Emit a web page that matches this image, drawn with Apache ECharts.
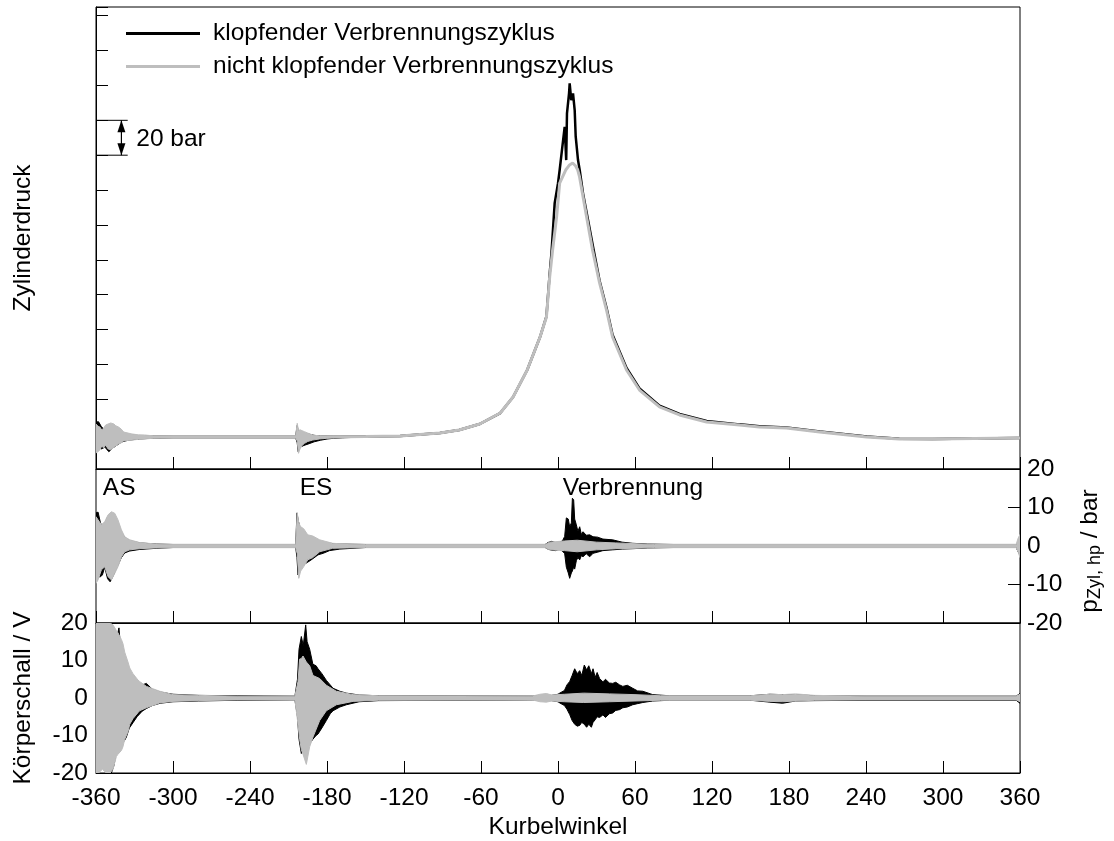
<!DOCTYPE html>
<html>
<head>
<meta charset="utf-8">
<script src="https://cdn.jsdelivr.net/npm/echarts@6/dist/echarts.min.js"></script>
<style>
html,body{margin:0;padding:0;background:#fff;}
#chart{width:1114px;height:841px;}
</style>
</head>
<body>
<div id="chart"></div>
<script>
// ---------- axes ----------
const X_MIN = -360, X_MAX = 360, X_STEP = 60;
const P_MIN = 0, P_MAX = 265, P_STEP = 20;          // Zylinderdruck (bar, unlabelled)
const HP_MIN = -20, HP_MAX = 20, HP_STEP = 10;      // p_Zyl,hp / bar
const KS_MIN = -20, KS_MAX = 20, KS_STEP = 10;      // Körperschall / V

const LEGEND_KNOCK = 'klopfender Verbrennungszyklus';
const LEGEND_CALM = 'nicht klopfender Verbrennungszyklus';
const COLOR_KNOCK = '#000000';
const COLOR_CALM = '#bebebe';

// ---------- Zylinderdruck: [Kurbelwinkel, bar] ----------
const pCalm = [[-360,18.4],[-300,18.4],[-240,18.4],[-203,18.4],[-180,18.4],[-150,18.6],[-123,18.9],[-92,20.6],[-77,22.4],[-61,25.8],[-45,32.1],[-35,41.3],[-24,56.8],[-14,75.7],[-9,87.2],[-6.5,110.1],[-4.2,125.6],[-1.1,144.5],[1.3,164.0],[6,171.5],[9,174.4],[11.4,175.5],[13.8,173.8],[15.4,171.5],[16.8,167.5],[22.3,144.5],[26.9,125.6],[32.4,106.7],[37.8,91.2],[42.5,75.7],[53.4,56.8],[63.5,45.3],[79.1,35.6],[94.7,31.0],[115.8,27.0],[141.5,25.2],[157,24.1],[178,23.5],[204,21.2],[240.6,18.4],[266,17.2],[292,17.2],[357.4,17.8],[360,17.8]];
const pKnock = [[-360,18.4],[-300,18.4],[-240,18.4],[-203,18.4],[-180,18.4],[-150,18.6],[-123,18.9],[-92,20.6],[-77,22.4],[-61,25.8],[-45,32.1],[-35,41.3],[-24,56.8],[-14,75.7],[-9,87.5],[-6.5,112],[-5.1,123.7],[-2.6,152.4],[0,163.9],[1.3,171.5],[3.4,184.9],[5.2,196.3],[6.4,177.2],[7.0,204.0],[8.6,215.5],[9.1,221.2],[10.3,211.6],[11.7,215.5],[13.0,205.9],[13.8,190.6],[15.6,177.2],[16.9,171.5],[19.5,158.1],[23.4,142.8],[27.3,127.5],[32.4,108],[37.8,92.5],[42.5,77],[53.4,58],[63.5,46.2],[79.1,36.3],[94.7,31.6],[115.8,27.5],[141.5,25.6],[157,24.5],[178,23.8],[204,21.5],[240.6,18.6],[266,17.3],[292,17.2],[357.4,17.8],[360,17.8]];
// Schwingungen im Zylinderdruck: [Kurbelwinkel, oben, unten]
const pCalmOsc = [[-360,25.8,9.2],[-358.4,24.5,10.0],[-357,24.1,10.9],[-355.5,22.4,13.2],[-354,23.5,12.0],[-352.5,25.2,13.8],[-350.6,25.8,11.5],[-348.5,26.4,11.0],[-346,25.8,12.5],[-344.6,24.8,13.2],[-342.5,24.1,14.3],[-340.5,23.0,14.9],[-338.4,21.2,16.1],[-335,20.6,16.4],[-332,20.1,16.6],[-327,19.6,17.0],[-322,19.5,17.2],[-315,19.0,17.7],[-310,18.9,17.8],[-300,18.7,18.0],[-204.5,18.7,18.0],[-203.2,26.2,16.0],[-202.2,22.0,9.0],[-201,22.5,11.5],[-199.5,22.0,13.5],[-197.5,21.4,14.7],[-195,20.6,15.8],[-191.1,19.5,16.6],[-186,19.0,17.2],[-180.5,18.8,17.6],[-175,18.7,17.9],[-170,18.6,18.1]];
const pKnockOsc = [[-360,27.0,12.0],[-358,27.1,12.8],[-356,24.5,11.5],[-353,22.0,12.5],[-350,23.0,9.9],[-347,22.5,12.0],[-344,21.5,13.5],[-340,20.5,15.5],[-335,19.8,16.5],[-328,19.2,17.1],[-318,18.9,17.6],[-300,18.7,18.0],[-204.5,18.7,18.0],[-203.2,25.0,15.0],[-202.5,22.0,10.0],[-201,21.5,12.5],[-198,20.5,13.5],[-194,20.0,14.5],[-190,19.3,15.6],[-185,18.9,16.5],[-180,18.8,17.2],[-175,18.7,17.6],[-168,18.6,17.9],[-160,18.6,18.1]];

// ---------- Hochpass Zylinderdruck: [Kurbelwinkel, oben, unten] ----------
const hpCalm = [[-360,7.6,-9.7],[-358.4,6.8,-8.8],[-355.8,5.5,-6.2],[-353.2,6.3,-5.4],[-350.6,8.1,-8.0],[-348,8.9,-8.8],[-345.4,8.5,-7.1],[-342.9,6.8,-5.4],[-340.2,4.2,-2.8],[-337.6,2.4,-1.5],[-333.7,1.6,-1.0],[-326,0.9,-0.7],[-313,0.5,-0.5],[-300,0.4,-0.4],[-204.4,0.4,-0.4],[-203.2,8.6,-2.0],[-202,6.0,-8.4],[-200.5,5.0,-6.5],[-198.2,4.5,-5.4],[-195,2.9,-3.6],[-191.1,2.6,-3.0],[-185.7,1.6,-1.5],[-175.6,0.7,-0.6],[-165,0.5,-0.5],[-150,0.4,-0.4],[-10,0.4,-0.4],[-6.5,1.0,-1.0],[5,1.3,-1.2],[15,1.5,-1.5],[30,1.0,-1.0],[45,0.8,-0.7],[60,0.6,-0.6],[75,0.4,-0.4],[357,0.4,-0.4],[358.5,2.0,-1.5],[360,3.0,-3.0]];
const hpKnock = [[-360,8.6,-9.0],[-358.4,8.8,-8.0],[-356.5,6.0,-8.0],[-355,5.0,-7.5],[-353.2,5.8,-5.5],[-351,7.5,-8.5],[-349,8.0,-9.3],[-347,7.5,-8.0],[-345,7.0,-6.5],[-342.9,5.8,-5.0],[-340.2,3.6,-3.0],[-337.6,2.2,-1.8],[-333.7,1.4,-1.3],[-326,0.8,-0.9],[-313,0.5,-0.6],[-300,0.4,-0.4],[-204.4,0.4,-0.4],[-203.4,8.6,-3.0],[-202.6,7.0,-7.5],[-201,4.5,-6.0],[-198.6,3.5,-4.9],[-195,2.5,-4.2],[-191.4,2.0,-3.4],[-187,1.3,-2.3],[-183,1.0,-1.9],[-178,0.7,-1.2],[-170,0.5,-0.8],[-150,0.4,-0.4],[-10,0.4,-0.4],[-7.9,0.9,-0.8],[-5,1.2,-1.1],[-2,0.9,-1.2],[1,1.0,-0.9],[3.4,1.3,-1.3],[5.2,2.5,-2.0],[6.5,7.3,-5.5],[8.0,7.0,-7.0],[9.1,5.0,-8.4],[10.4,6.0,-7.0],[11.2,12.4,-6.5],[12.2,12.0,-5.5],[13.0,7.0,-6.0],[14.3,5.5,-3.8],[15.5,3.8,-3.0],[16.9,5.0,-3.6],[18.2,3.0,-2.5],[19.5,3.7,-2.8],[22,2.8,-2.0],[24.7,2.9,-2.8],[27.3,2.4,-1.9],[30.9,2.3,-1.6],[35,1.8,-1.2],[42.6,1.6,-1.0],[50,1.0,-0.8],[58.2,0.7,-0.7],[70,0.5,-0.5],[90,0.4,-0.4],[357,0.4,-0.4],[360,1.0,-2.5]];

// ---------- Körperschall: [Kurbelwinkel, oben, unten] ----------
const ksCalm = [[-360,20,-20],[-358,20,-20],[-355,20,-19],[-352,20,-20],[-349,20,-20],[-346.8,19.5,-19],[-344.1,18,-15.6],[-342.9,17.4,-15],[-340.2,15.6,-14],[-339,14.5,-13],[-337.6,12.2,-11],[-335.1,9.6,-9],[-333.7,8,-7],[-331.2,6.5,-5.5],[-327.3,4.8,-3.9],[-326,4.4,-3.4],[-320.7,3.1,-2.6],[-310.3,1.8,-1.3],[-300,0.9,-0.9],[-280,0.7,-0.7],[-250,0.5,-0.5],[-205,0.5,-0.5],[-202.6,4.4,-7],[-201.3,10.4,-11],[-200,10.5,-13.8],[-198.7,11.2,-15],[-196.1,9.6,-17.7],[-193.5,8.6,-13],[-190.9,6.0,-10.4],[-185.7,5.2,-6.0],[-180.5,3.4,-3.4],[-172.7,1.8,-1.8],[-159.7,0.9,-0.9],[-140,0.6,-0.6],[-20,0.5,-0.5],[-14,1.0,-1.0],[-9,1.2,-1.1],[-5,0.8,-0.8],[5,1.0,-1.0],[20,1.3,-1.2],[40,1.1,-1.0],[60,0.9,-0.8],[80,0.6,-0.6],[150,0.6,-0.6],[165,1.0,-0.9],[175,0.9,-1.0],[185,1.1,-0.8],[200,0.7,-0.6],[240,0.5,-0.5],[357,0.5,-0.5],[360,1.0,-1.0]];
const ksKnock = [[-360,20,-20],[-357,20,-17],[-354.5,20,-15],[-352,17,-17],[-350,16,-19],[-348,15,-20],[-346,14,-18],[-344,16,-14],[-342.1,18.7,-12.5],[-340.5,12,-12],[-338,10,-11.5],[-336.3,8,-10.4],[-334,6.5,-8],[-331,6,-6.5],[-328,4.6,-5],[-324,3.5,-3.5],[-320.7,3.9,-2.8],[-316,2.3,-2.0],[-310,1.6,-1.4],[-300,1.0,-1.0],[-280,0.7,-0.8],[-250,0.6,-0.6],[-205,0.5,-0.5],[-203,5.0,-5],[-201.8,13,-11],[-200.0,16.4,-14.8],[-198.5,14,-13],[-196.6,19.5,-12],[-195.5,15,-11],[-193.5,13,-12.2],[-191,9,-11],[-188.5,8.6,-10],[-187,7.8,-9.6],[-184,6.5,-8],[-180.5,4.7,-6],[-177.5,3.5,-4.2],[-175.3,2.6,-3.4],[-170,1.8,-2.4],[-164.9,1.3,-1.8],[-155,0.8,-1.0],[-140,0.6,-0.7],[-20,0.5,-0.5],[-5,0.7,-0.7],[0,1.0,-1.0],[1.3,1.3,-1.3],[5,2.0,-2.0],[7,3.5,-3.0],[9.1,4.4,-4.4],[11,6.0,-6.0],[13,7.8,-7.0],[15,6.5,-7.5],[16.9,7.3,-7.3],[18.5,6.0,-6.5],[20.5,8.8,-7.0],[22.3,7.5,-7.8],[24,8.6,-7.0],[26,6.5,-7.8],[27.3,7.8,-6.5],[29,5.5,-5.8],[30.5,6.8,-5.0],[32.4,5.2,-5.2],[35,4.3,-4.5],[37,5.0,-5.2],[40,4.0,-4.2],[42.6,3.9,-4.0],[45,4.2,-3.3],[48,3.5,-3.1],[50.5,3.1,-2.6],[54,3.4,-2.4],[58.2,2.6,-1.8],[62,1.9,-1.5],[66.1,1.8,-1.2],[73.8,0.9,-0.8],[87,0.6,-0.6],[150,0.6,-0.6],[165,1.0,-1.1],[175,0.9,-1.4],[185,0.9,-0.8],[200,0.6,-0.7],[240,0.5,-0.6],[357,0.5,-0.6],[360,1.2,-1.4]];

// ---------- annotations ----------
const scaleBarBar = [180, 200];            // 20 bar scale bar between these pressure levels
const scaleBarAngle = [-360, -335.3];      // horizontal extent of the scale bar lines
const scaleBarArrowAngle = -340.2;
const scaleBarText = '20 bar';
const scaleBarTextAngle = -328.6;
const eventLabels = ['AS', 'ES', 'Verbrennung'];
const eventAngles = [-354.7, -201.3, 3.7];
const eventLevel = 15;

const FONT = '"Liberation Sans", Arial, Helvetica, sans-serif';
const FS = 24.5;

function band(name, data, idx, color, z) {
  return {
    type: 'custom', name: name, xAxisIndex: idx, yAxisIndex: idx, z: z, clip: true, silent: true,
    data: data.map(d => [d[0], d[1], d[2]]),
    encode: { x: 0, y: 1 },
    renderItem: function (params, api) {
      if (params.dataIndex !== 0) return null;
      const up = data.map(d => api.coord([d[0], d[1]]));
      const dn = data.slice().reverse().map(d => api.coord([d[0], d[2]]));
      return { type: 'polygon', shape: { points: up.concat(dn) },
               style: { fill: color, stroke: color, lineWidth: 1 } };
    }
  };
}

function xAxisDef(idx, showLabels) {
  return {
    type: 'value', gridIndex: idx, min: X_MIN, max: X_MAX, interval: X_STEP,
    axisLine: { show: true, onZero: false, lineStyle: { color: '#000', width: 1 } },
    axisTick: { show: true, inside: true, length: 12, lineStyle: { color: '#000', width: 1 } },
    axisLabel: { show: showLabels, color: '#000', fontSize: FS, fontFamily: FONT, margin: 13 },
    splitLine: { show: false },
    name: showLabels ? 'Kurbelwinkel' : '', nameLocation: 'middle', nameGap: 42,
    nameTextStyle: { color: '#000', fontSize: FS, fontFamily: FONT }
  };
}

const option = {
  animation: false,
  backgroundColor: '#fff',
  grid: [
    { left: 96, top: 7, width: 924, height: 462, show: true, borderColor: '#000', borderWidth: 1, backgroundColor: 'transparent' },
    { left: 96, top: 469, width: 924, height: 154, show: true, borderColor: '#000', borderWidth: 1, backgroundColor: 'transparent' },
    { left: 96, top: 623, width: 924, height: 154, show: true, borderColor: '#000', borderWidth: 1, backgroundColor: 'transparent' }
  ],
  legend: {
    orient: 'vertical', left: 126, top: 21, padding: 0, itemWidth: 74, itemHeight: 3, itemGap: 8,
    icon: 'rect', selectedMode: false,
    data: [LEGEND_KNOCK, LEGEND_CALM],
    textStyle: { color: '#000', fontSize: FS, fontFamily: FONT, padding: [0, 0, 0, 8] }
  },
  xAxis: [xAxisDef(0, false), xAxisDef(1, false), xAxisDef(2, true)],
  yAxis: [
    { type: 'value', gridIndex: 0, min: P_MIN, max: P_MAX, interval: P_STEP,
      axisLine: { show: true, onZero: false, lineStyle: { color: '#000' } },
      axisTick: { show: true, inside: true, length: 12, lineStyle: { color: '#000' } },
      axisLabel: { show: false }, splitLine: { show: false },
      name: 'Zylinderdruck', nameLocation: 'middle', nameGap: 60, nameRotate: 90,
      nameTextStyle: { color: '#000', fontSize: FS, fontFamily: FONT } },
    { type: 'value', gridIndex: 1, position: 'right', min: HP_MIN, max: HP_MAX, interval: HP_STEP,
      axisLine: { show: true, onZero: false, lineStyle: { color: '#000' } },
      axisTick: { show: true, inside: true, length: 12, lineStyle: { color: '#000' } },
      axisLabel: { show: true, color: '#000', fontSize: FS, fontFamily: FONT, margin: 7 },
      splitLine: { show: false },
      name: '{p|p}{s|Zyl, hp}{p| / bar}{g| }', nameLocation: 'middle', nameGap: 56, nameRotate: 90,
      nameTextStyle: { color: '#000', fontFamily: FONT,
        rich: { p: { fontSize: FS, fontFamily: FONT, color: '#000' },
                s: { fontSize: 18, fontFamily: FONT, color: '#000', padding: [10, 0, 0, 0] },
                g: { width: 10, fontSize: FS, color: 'rgba(0,0,0,0)' } } } },
    { type: 'value', gridIndex: 2, min: KS_MIN, max: KS_MAX, interval: KS_STEP,
      axisLine: { show: true, onZero: false, lineStyle: { color: '#000' } },
      axisTick: { show: false },
      axisLabel: { show: true, color: '#000', fontSize: FS, fontFamily: FONT, margin: 8 },
      splitLine: { show: false },
      name: 'Körperschall / V', nameLocation: 'middle', nameGap: 60, nameRotate: 90,
      nameTextStyle: { color: '#000', fontSize: FS, fontFamily: FONT } }
  ],
  series: [
    band('knockOsc', pKnockOsc, 0, COLOR_KNOCK, 2),
    { type: 'line', name: LEGEND_KNOCK, xAxisIndex: 0, yAxisIndex: 0, z: 3, data: pKnock,
      showSymbol: false, symbol: 'none', clip: true, silent: true,
      itemStyle: { color: COLOR_KNOCK }, lineStyle: { color: COLOR_KNOCK, width: 2.5 } },
    band('calmOsc', pCalmOsc, 0, COLOR_CALM, 4),
    { type: 'line', name: LEGEND_CALM, xAxisIndex: 0, yAxisIndex: 0, z: 5, data: pCalm,
      showSymbol: false, symbol: 'none', clip: true, silent: true,
      itemStyle: { color: COLOR_CALM }, lineStyle: { color: COLOR_CALM, width: 3 } },
    band('hpKnock', hpKnock, 1, COLOR_KNOCK, 2),
    band('hpCalm', hpCalm, 1, COLOR_CALM, 4),
    band('ksKnock', ksKnock, 2, COLOR_KNOCK, 2),
    band('ksCalm', ksCalm, 2, COLOR_CALM, 4),
    { type: 'custom', name: 'scalebar', xAxisIndex: 0, yAxisIndex: 0, z: 6, silent: true,
      data: [[scaleBarAngle[0], scaleBarBar[0]]], encode: { x: 0, y: 1 },
      renderItem: function (params, api) {
        const a0 = api.coord([scaleBarAngle[0], scaleBarBar[1]]);
        const a1 = api.coord([scaleBarAngle[1], scaleBarBar[1]]);
        const b0 = api.coord([scaleBarAngle[0], scaleBarBar[0]]);
        const b1 = api.coord([scaleBarAngle[1], scaleBarBar[0]]);
        const top = api.coord([scaleBarArrowAngle, scaleBarBar[1]]);
        const bot = api.coord([scaleBarArrowAngle, scaleBarBar[0]]);
        const mid = api.coord([scaleBarTextAngle, (scaleBarBar[0] + scaleBarBar[1]) / 2]);
        const x = top[0], hw = 4, hh = 12;
        return { type: 'group', children: [
          { type: 'line', shape: { x1: a0[0], y1: a0[1], x2: a1[0], y2: a1[1] }, style: { stroke: '#000', lineWidth: 1 } },
          { type: 'line', shape: { x1: b0[0], y1: b0[1], x2: b1[0], y2: b1[1] }, style: { stroke: '#000', lineWidth: 1 } },
          { type: 'line', shape: { x1: x, y1: top[1], x2: x, y2: bot[1] }, style: { stroke: '#000', lineWidth: 1.2 } },
          { type: 'polygon', shape: { points: [[x, top[1]], [x - hw, top[1] + hh], [x + hw, top[1] + hh]] }, style: { fill: '#000' } },
          { type: 'polygon', shape: { points: [[x, bot[1]], [x - hw, bot[1] - hh], [x + hw, bot[1] - hh]] }, style: { fill: '#000' } },
          { type: 'text', x: mid[0], y: mid[1] + 1, style: { text: scaleBarText, fill: '#000', font: FS + 'px ' + FONT, textAlign: 'left', textVerticalAlign: 'middle' } }
        ] };
      } },
    { type: 'custom', name: 'events', xAxisIndex: 1, yAxisIndex: 1, z: 6, silent: true,
      data: eventAngles.map((a, i) => [a, eventLevel, i]), encode: { x: 0, y: 1 },
      renderItem: function (params, api) {
        const p = api.coord([api.value(0), api.value(1)]);
        return { type: 'text', x: p[0], y: p[1],
          style: { text: eventLabels[api.value(2)], fill: '#000', font: FS + 'px ' + FONT, textAlign: 'left', textVerticalAlign: 'middle' } };
      } }
  ]
};

const chart = echarts.init(document.getElementById('chart'), null, { renderer: 'canvas' });
chart.setOption(option);
</script>
</body>
</html>
